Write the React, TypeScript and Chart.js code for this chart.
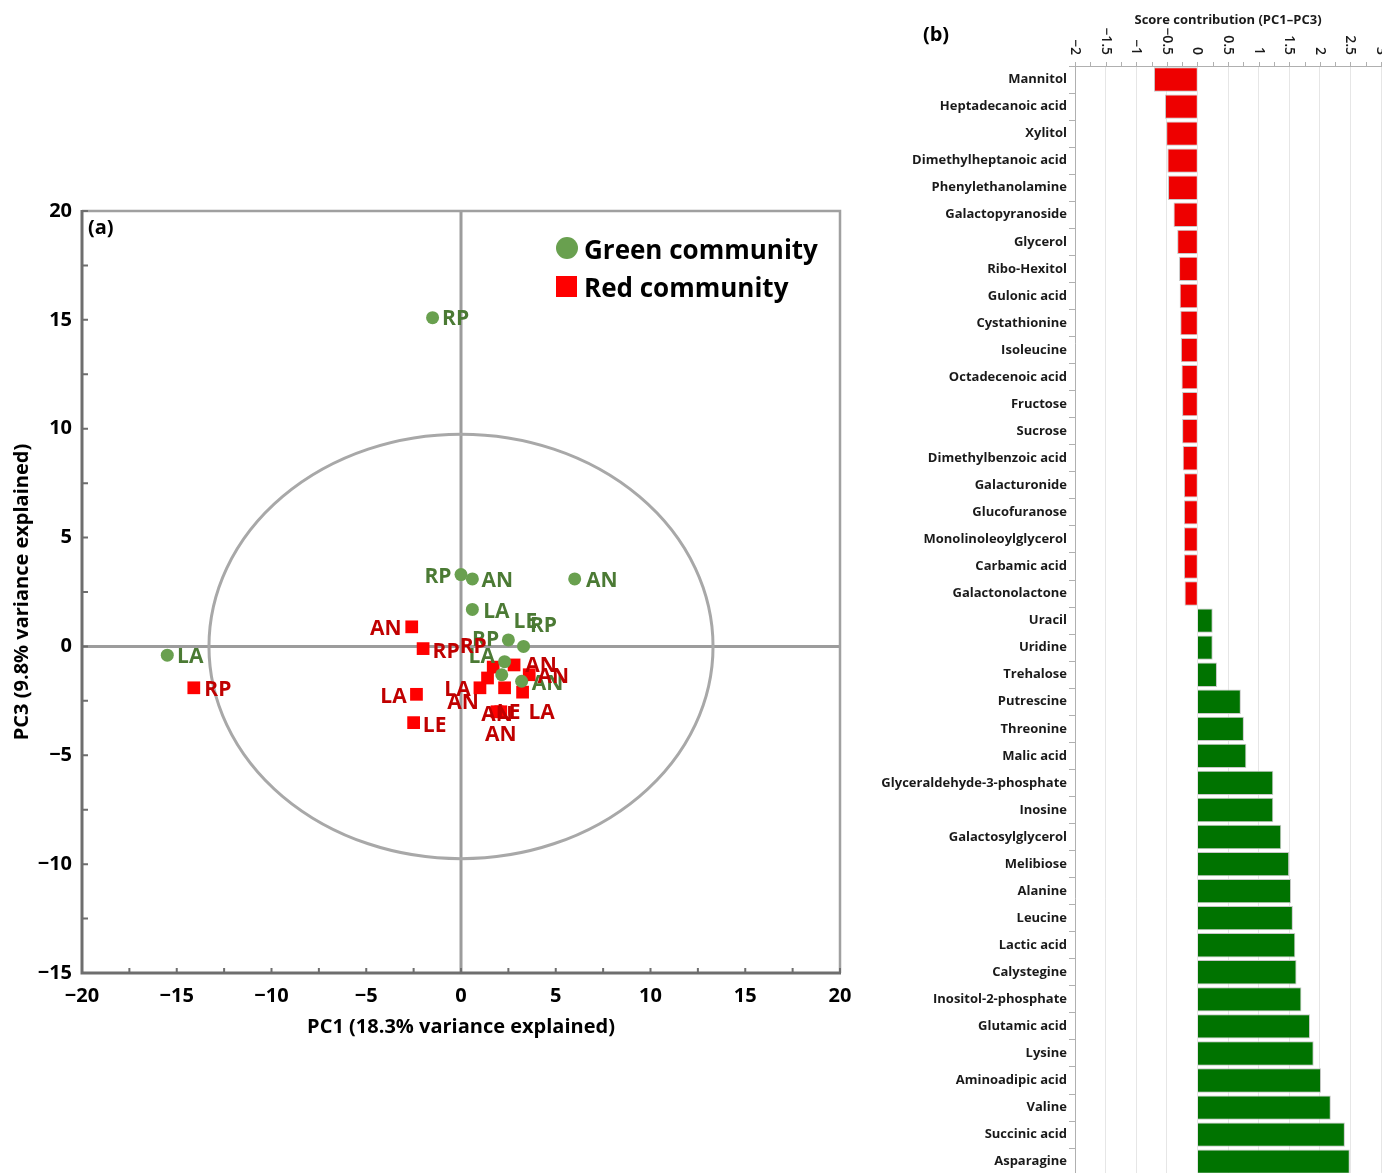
import React, { useEffect, useRef } from 'react';
import { Chart, registerables } from 'chart.js';

Chart.register(...registerables);

const FONT = '"Open Sans", "DejaVu Sans", sans-serif';
const MINUS = '\u2212';

// PCA scores (PC1, PC3) for the green community samples
const GREEN_PC1 = [-1.5, -15.5, 0.0, 0.6, 6.0, 0.6, 2.5, 3.3, 2.3, 2.15, 3.2];
const GREEN_PC3 = [15.1, -0.4, 3.3, 3.1, 3.1, 1.7, 0.3, 0.0, -0.7, -1.3, -1.6];
const GREEN_LABELS = ['RP', 'LA', 'RP', 'AN', 'AN', 'LA', 'LE', 'RP', 'RP', 'LA', 'AN'];

// PCA scores (PC1, PC3) for the red community samples
const RED_PC1 = [-14.1, -2.6, -2.0, 1.7, 2.8, 3.6, 1.4, 1.0, -2.35, -2.5, 2.1, 1.9, 2.3, 3.25];
const RED_PC3 = [-1.9, 0.9, -0.1, -0.95, -0.85, -1.3, -1.45, -1.9, -2.2, -3.5, -3.0, -3.0, -1.9, -2.1];
const RED_LABELS = ['RP', 'AN', 'RP', 'RP', 'AN', 'AN', 'LA', 'AN', 'LA', 'LE', 'AN', 'AN', 'LE', 'LA'];

// Hotelling ellipse half-axes (in PC units)
const ELLIPSE_RX = 13.3;
const ELLIPSE_RY = 9.75;

// metabolite score contributions, panel (b)
const METABOLITES = [
  'Mannitol', 'Heptadecanoic acid', 'Xylitol', 'Dimethylheptanoic acid', 'Phenylethanolamine',
  'Galactopyranoside', 'Glycerol', 'Ribo-Hexitol', 'Gulonic acid', 'Cystathionine',
  'Isoleucine', 'Octadecenoic acid', 'Fructose', 'Sucrose', 'Dimethylbenzoic acid',
  'Galacturonide', 'Glucofuranose', 'Monolinoleoylglycerol', 'Carbamic acid', 'Galactonolactone',
  'Uracil', 'Uridine', 'Trehalose', 'Putrescine', 'Threonine',
  'Malic acid', 'Glyceraldehyde-3-phosphate', 'Inosine', 'Galactosylglycerol', 'Melibiose',
  'Alanine', 'Leucine', 'Lactic acid', 'Calystegine', 'Inositol-2-phosphate',
  'Glutamic acid', 'Lysine', 'Aminoadipic acid', 'Valine', 'Succinic acid', 'Asparagine',
];
const CONTRIBUTIONS = [
  -0.71, -0.53, -0.51, -0.49, -0.48,
  -0.39, -0.33, -0.30, -0.29, -0.28,
  -0.27, -0.26, -0.25, -0.25, -0.24,
  -0.22, -0.22, -0.22, -0.22, -0.21,
  0.25, 0.25, 0.32, 0.71, 0.76,
  0.80, 1.24, 1.24, 1.37, 1.50,
  1.53, 1.56, 1.60, 1.62, 1.70,
  1.84, 1.90, 2.02, 2.18, 2.41, 2.49,
];

// label placement relative to each marker, in px (layout only)
const GREEN_LABEL_OFFSETS = [[23, 1], [23, 2], [-23, 2], [25, 2], [27, 2], [24, 3], [17, -18], [20, -20], [-19, -22], [-20, -18], [26, 3]];
const RED_LABEL_OFFSETS = [[24, 2], [-26, 2], [23, 3], [-20, -20], [27, 1], [24, 2], [-30, 12], [-17, 15], [-23, 3], [21, 3], [0, 23], [0, 3], [4, 25], [19, 21]];

const GREEN_MARK = '#69a04f';
const GREEN_TEXT = '#4b7a34';
const RED_MARK = '#ff0000';
const RED_TEXT = '#c00000';

const fmt = (v: number) => String(v).replace('-', MINUS);

const scatterDecor = {
  id: 'scatterDecor',
  beforeDatasetsDraw(chart) {
    const { ctx, chartArea: a, scales: { x, y } } = chart;
    ctx.save();
    // zero lines
    ctx.strokeStyle = '#9c9c9c';
    ctx.lineWidth = 3;
    ctx.beginPath();
    ctx.moveTo(x.getPixelForValue(0), a.top);
    ctx.lineTo(x.getPixelForValue(0), a.bottom);
    ctx.moveTo(a.left, y.getPixelForValue(0));
    ctx.lineTo(a.right, y.getPixelForValue(0));
    ctx.stroke();
    // confidence ellipse
    const cx = x.getPixelForValue(0);
    const cy = y.getPixelForValue(0);
    const rx = x.getPixelForValue(ELLIPSE_RX) - cx;
    const ry = cy - y.getPixelForValue(ELLIPSE_RY);
    ctx.strokeStyle = '#a8a8a8';
    ctx.beginPath();
    ctx.ellipse(cx, cy, rx, ry, 0, 0, Math.PI * 2);
    ctx.stroke();
    // frame
    ctx.strokeStyle = '#a0a0a0';
    ctx.lineWidth = 2.5;
    ctx.beginPath();
    ctx.moveTo(a.left, a.top);
    ctx.lineTo(a.right, a.top);
    ctx.lineTo(a.right, a.bottom);
    ctx.stroke();
    ctx.strokeStyle = '#6e6e6e';
    ctx.lineWidth = 3;
    ctx.beginPath();
    ctx.moveTo(a.left, a.top - 1);
    ctx.lineTo(a.left, a.bottom);
    ctx.lineTo(a.right + 1, a.bottom);
    ctx.stroke();
    // inward minor ticks
    ctx.lineWidth = 2;
    ctx.beginPath();
    for (let v = -20; v <= 20; v += 2.5) {
      const px = x.getPixelForValue(v);
      ctx.moveTo(px, a.bottom);
      ctx.lineTo(px, a.bottom - 5);
    }
    for (let v = -15; v <= 20; v += 2.5) {
      const py = y.getPixelForValue(v);
      ctx.moveTo(a.left, py);
      ctx.lineTo(a.left + 6, py);
    }
    ctx.stroke();
    ctx.restore();
  },
  afterDatasetsDraw(chart) {
    const { ctx, chartArea: a } = chart;
    ctx.save();
    ctx.font = `bold 21px ${FONT}`;
    ctx.textAlign = 'center';
    ctx.textBaseline = 'middle';
    const groups = [
      { labels: GREEN_LABELS, offsets: GREEN_LABEL_OFFSETS, color: GREEN_TEXT, ds: 0 },
      { labels: RED_LABELS, offsets: RED_LABEL_OFFSETS, color: RED_TEXT, ds: 1 },
    ];
    groups.forEach((g) => {
      const meta = chart.getDatasetMeta(g.ds);
      ctx.fillStyle = g.color;
      meta.data.forEach((pt, i) => {
        const [dx, dy] = g.offsets[i];
        ctx.fillText(g.labels[i], pt.x + dx, pt.y + dy);
      });
    });

    // panel tag
    ctx.fillStyle = '#000';
    ctx.textAlign = 'left';
    ctx.font = `bold 20px ${FONT}`;
    ctx.fillText('(a)', a.left + 6, a.top + 17);

    // legend
    ctx.font = `bold 26px ${FONT}`;
    ctx.fillStyle = GREEN_MARK;
    ctx.beginPath();
    ctx.arc(567, 248, 11, 0, Math.PI * 2);
    ctx.fill();
    ctx.fillStyle = RED_MARK;
    ctx.fillRect(556, 276, 21, 21);
    ctx.fillStyle = '#000';
    ctx.fillText('Green community', 584, 252);
    ctx.fillText('Red community', 584, 290);
    ctx.restore();
  },
};

const barDecor = {
  id: 'barDecor',
  afterDraw(chart) {
    const { ctx, chartArea: a, scales: { x } } = chart;
    ctx.save();
    // small ticks above the top axis
    ctx.strokeStyle = '#b0b0b0';
    ctx.lineWidth = 1;
    ctx.beginPath();
    for (let v = -2; v <= 3.001; v += 0.25) {
      const px = Math.round(x.getPixelForValue(v)) + 0.5;
      ctx.moveTo(px, a.top);
      ctx.lineTo(px, a.top - 4);
    }
    ctx.stroke();
    // rotated tick labels
    ctx.fillStyle = '#1a1a1a';
    ctx.font = `600 14px ${FONT}`;
    ctx.textAlign = 'right';
    ctx.textBaseline = 'middle';
    for (let k = 0; k <= 10; k++) {
      const v = -2 + k * 0.5;
      ctx.save();
      ctx.translate(x.getPixelForValue(v), a.top - 11);
      ctx.rotate(Math.PI / 2);
      ctx.fillText(fmt(v), 0, 0);
      ctx.restore();
    }
    // panel tag
    ctx.fillStyle = '#000';
    ctx.font = `bold 20px ${FONT}`;
    ctx.textAlign = 'center';
    ctx.fillText('(b)', 66, 35);
    ctx.restore();
  },
};

function ScatterPanel() {
  const ref = useRef<HTMLCanvasElement>(null);
  useEffect(() => {
    const chart = new Chart(ref.current, {
      type: 'scatter',
      data: {
        datasets: [
          {
            label: 'Green community',
            data: GREEN_PC1.map((v, i) => ({ x: v, y: GREEN_PC3[i] })),
            pointStyle: 'circle',
            pointRadius: 6.5,
            pointBackgroundColor: GREEN_MARK,
            pointBorderWidth: 0,
          },
          {
            label: 'Red community',
            data: RED_PC1.map((v, i) => ({ x: v, y: RED_PC3[i] })),
            pointStyle: 'rect',
            pointRadius: 9,
            pointBackgroundColor: RED_MARK,
            pointBorderWidth: 0,
          },
        ],
      },
      options: {
        animation: false,
        responsive: false,
        layout: { padding: { top: 211, right: 30, bottom: 130, left: 0 } },
        plugins: { legend: { display: false }, tooltip: { enabled: false } },
        scales: {
          x: {
            type: 'linear',
            min: -20,
            max: 20,
            afterFit: (s) => { s.height = 70; },
            grid: { display: false, drawTicks: false },
            border: { display: false },
            ticks: {
              stepSize: 5,
              padding: 11,
              color: '#000',
              font: { family: FONT, size: 20, weight: 'bold' },
              callback: (v) => fmt(v),
            },
            title: {
              display: true,
              text: 'PC1 (18.3% variance explained)',
              color: '#000',
              font: { family: FONT, size: 20, weight: 'bold' },
              padding: { top: 0, bottom: 4 },
            },
          },
          y: {
            type: 'linear',
            min: -15,
            max: 20,
            afterFit: (s) => { s.width = 82; },
            grid: { display: false, drawTicks: false },
            border: { display: false },
            ticks: {
              stepSize: 5,
              padding: 10,
              color: '#000',
              font: { family: FONT, size: 20, weight: 'bold' },
              callback: (v) => fmt(v),
            },
            title: {
              display: true,
              text: 'PC3 (9.8% variance explained)',
              color: '#000',
              font: { family: FONT, size: 20, weight: 'bold' },
              padding: { top: 10, bottom: 0 },
            },
          },
        },
      },
      plugins: [scatterDecor],
    });
    return () => chart.destroy();
  }, []);
  return (
    <div style={{ position: 'absolute', left: 0, top: 0, width: 870, height: 1173 }}>
      <canvas ref={ref} width={870} height={1173} style={{ display: 'block' }} />
    </div>
  );
}

function BarPanel() {
  const ref = useRef<HTMLCanvasElement>(null);
  useEffect(() => {
    const chart = new Chart(ref.current, {
      type: 'bar',
      data: {
        labels: METABOLITES,
        datasets: [
          {
            label: 'Score contribution',
            data: CONTRIBUTIONS,
            backgroundColor: CONTRIBUTIONS.map((v) => (v < 0 ? '#ee0000' : '#007300')),
            borderColor: '#c8c8c8',
            borderWidth: 1,
            barPercentage: 0.9,
            categoryPercentage: 1.0,
          },
        ],
      },
      options: {
        indexAxis: 'y',
        animation: false,
        responsive: false,
        layout: { padding: { top: 0, right: 1, bottom: 0, left: 0 } },
        plugins: { legend: { display: false }, tooltip: { enabled: false } },
        scales: {
          x: {
            type: 'linear',
            position: 'top',
            min: -2,
            max: 3,
            afterFit: (s) => { s.height = 66; },
            grid: { color: '#e6e6e6', drawTicks: false },
            border: { color: '#b0b0b0' },
            ticks: { stepSize: 0.5, display: false },
            title: {
              display: true,
              text: 'Score contribution (PC1\u2013PC3)',
              color: '#1a1a1a',
              font: { family: FONT, size: 13, weight: 'bold' },
              padding: { top: 12, bottom: 0 },
            },
          },
          y: {
            afterFit: (s) => { s.width = 205; },
            grid: { drawOnChartArea: false, drawTicks: true, tickLength: 6, color: '#b0b0b0' },
            border: { color: '#b0b0b0' },
            ticks: {
              autoSkip: false,
              padding: 2,
              color: '#1a1a1a',
              font: { family: FONT, size: 13, weight: 'bold' },
            },
          },
        },
      },
      plugins: [barDecor],
    });
    return () => chart.destroy();
  }, []);
  return (
    <div style={{ position: 'absolute', left: 870, top: 0, width: 512, height: 1185 }}>
      <canvas ref={ref} width={512} height={1185} style={{ display: 'block' }} />
    </div>
  );
}

export default function App() {
  return (
    <div
      style={{
        position: 'absolute',
        left: 0,
        top: 0,
        width: 1382,
        height: 1173,
        overflow: 'hidden',
        background: '#fff',
      }}
    >
      <ScatterPanel />
      <BarPanel />
    </div>
  );
}
